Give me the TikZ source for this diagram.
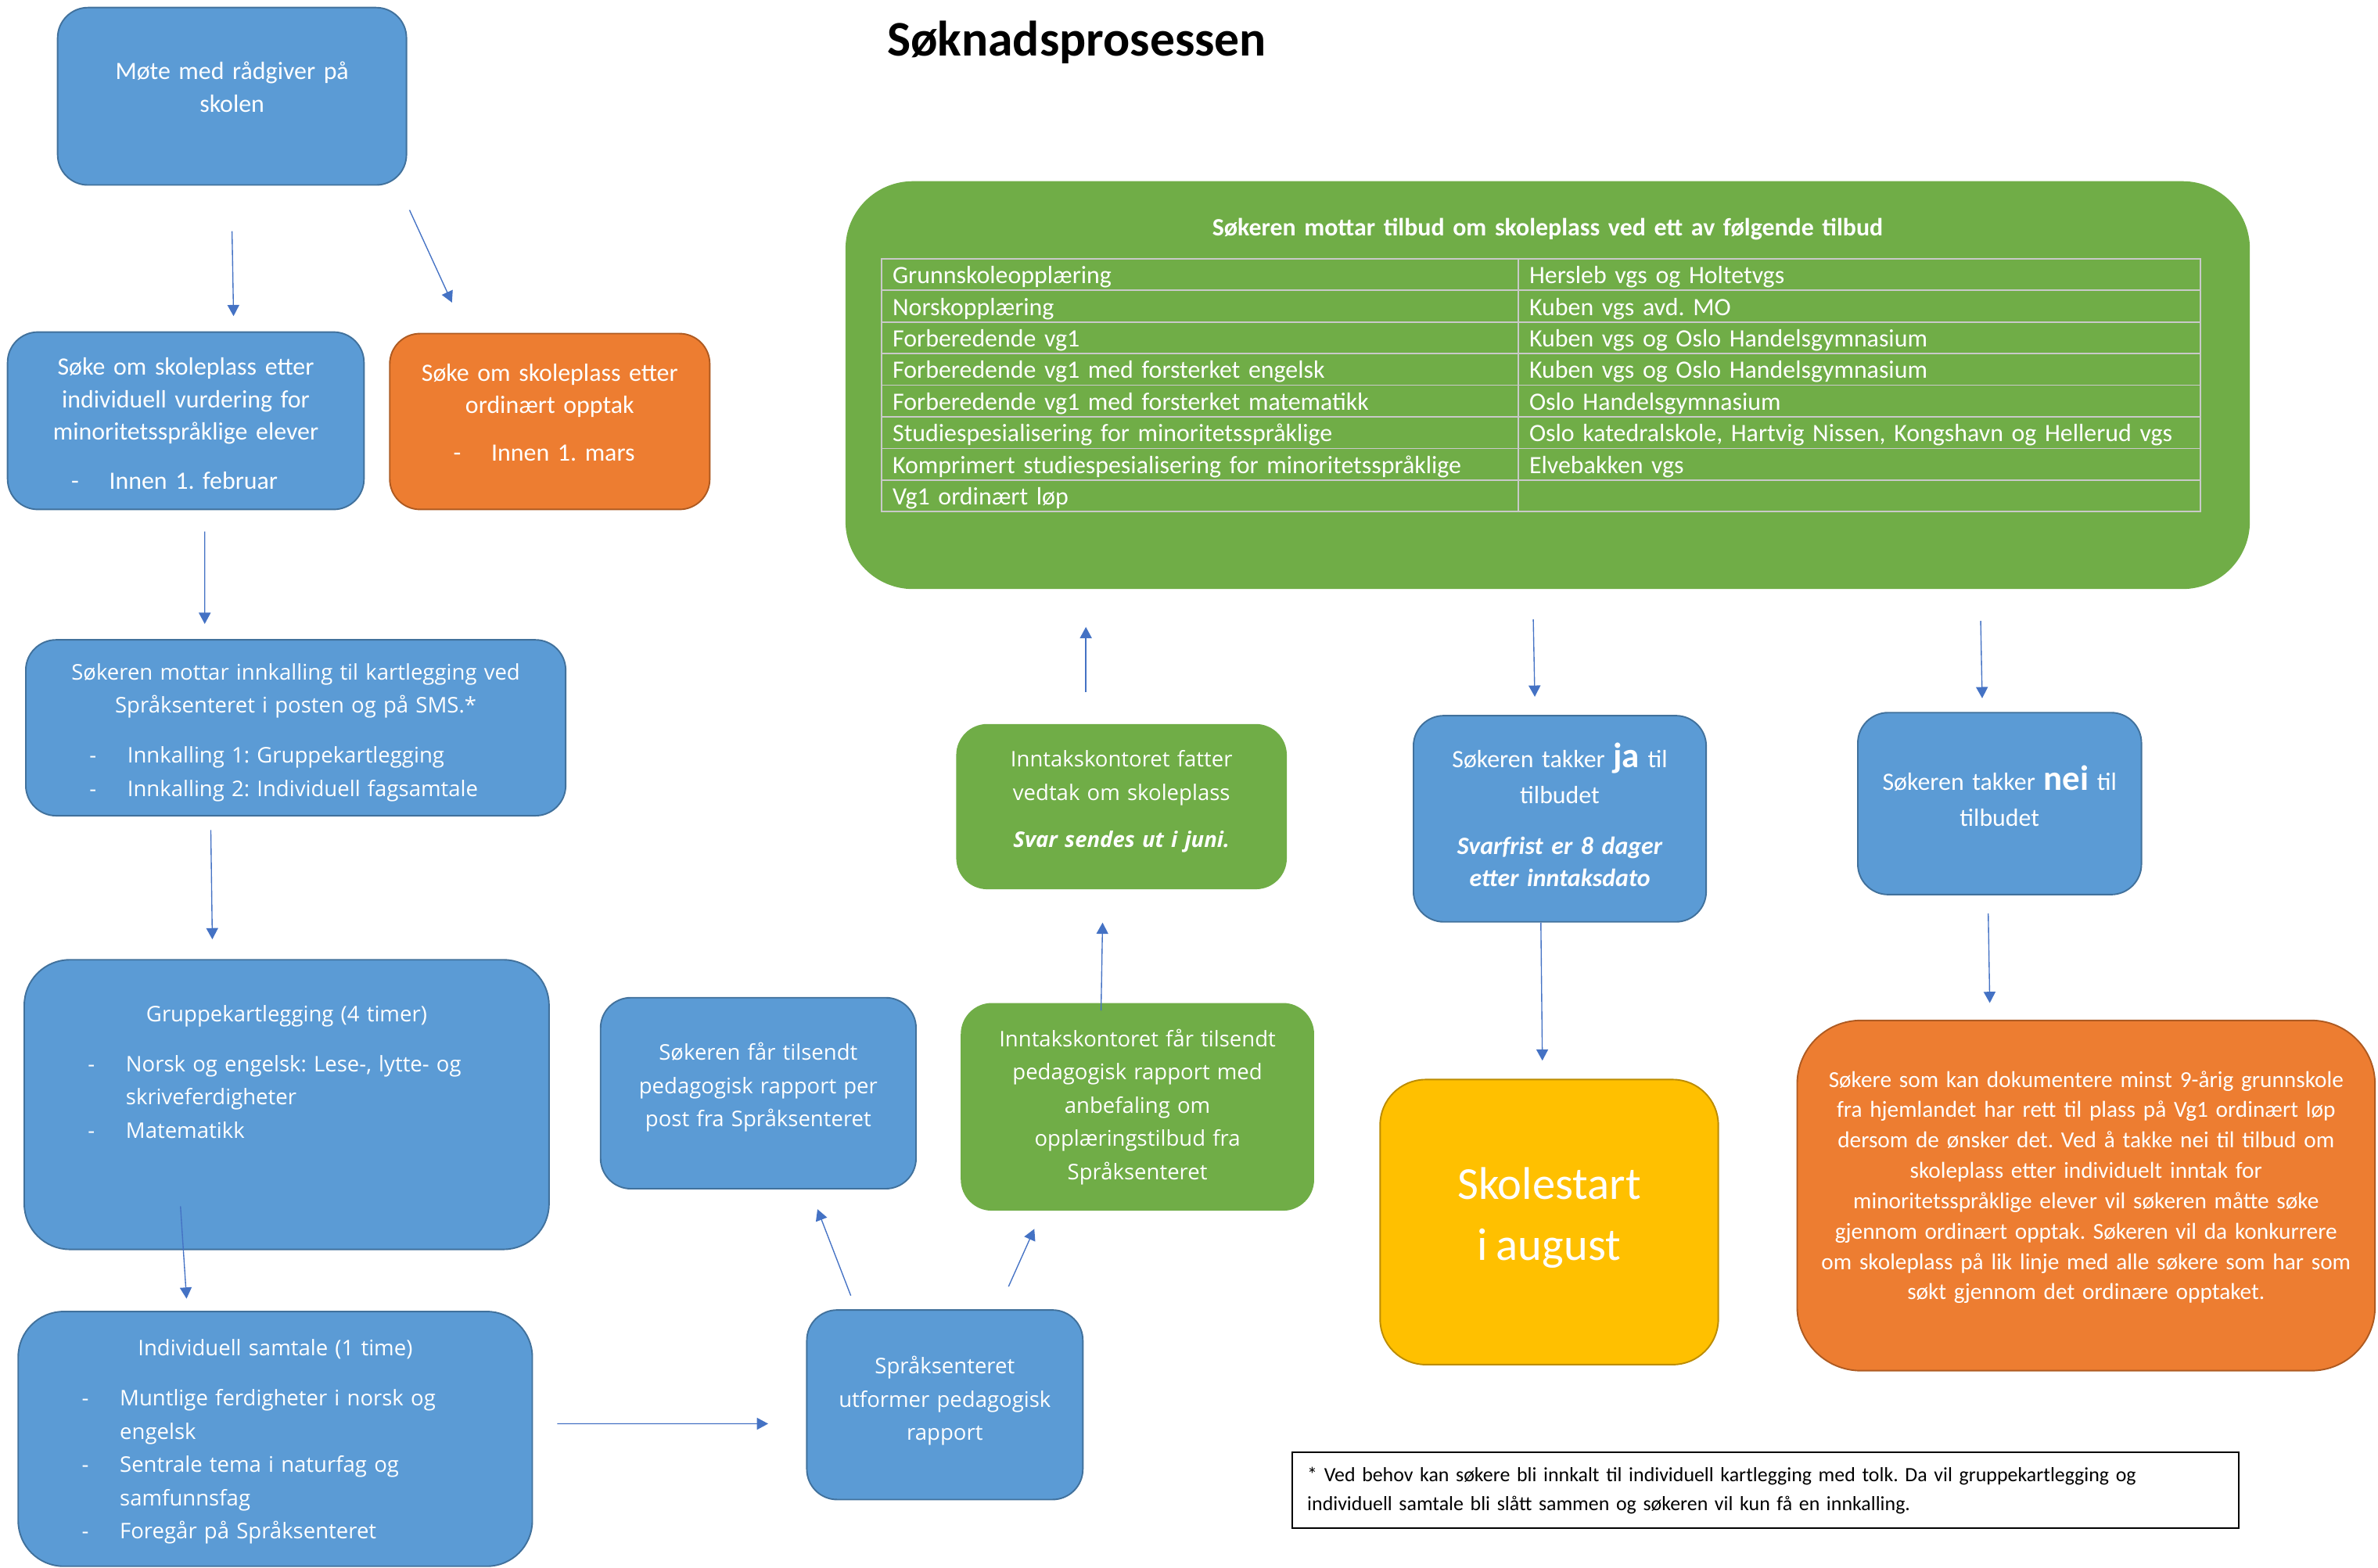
\documentclass[tikz,border=0pt]{standalone}
\usepackage{fontspec}
\setmainfont{Carlito}
\newfontfamily\widefont{Open Sans}
\usepackage{array}
\usepackage{colortbl}
\usetikzlibrary{calc,arrows.meta}

\definecolor{blaa}{HTML}{5B9BD5}
\definecolor{blaakant}{HTML}{41719C}
\definecolor{oransje}{HTML}{ED7D31}
\definecolor{oransjekant}{HTML}{AE5A21}
\definecolor{groenn}{HTML}{70AD47}
\definecolor{gul}{HTML}{FFC000}
\definecolor{gulkant}{HTML}{BC8C00}
\definecolor{pilfarge}{HTML}{4472C4}
\definecolor{tabellgraa}{HTML}{C9C9C9}

% one pixel of the sketch
\newlength{\pxl}\setlength{\pxl}{0.5mm}
\newcommand{\tx}{\fontsize{23.4}{30.5}\selectfont}
\newcommand{\wtx}{\widefont\fontsize{20.2}{31.2}\selectfont}
% list line with a dash
\newcommand{\punkt}[1]{\par\hangindent=28.5mm\hangafter=1\noindent\makebox[28.5mm][l]{\hspace{16mm}-}#1\par}
% extra room under the text (negative: text moves down)
\newcommand{\luft}[1]{\par\vspace{#1}\hrule height 0pt}
\newcommand{\rad}{\rule[-2mm]{0pt}{10mm}}

\tikzset{
  boks/.style={rounded corners=10mm, line width=1.4pt, text=white, inner xsep=5mm, inner ysep=2mm, font=\tx},
  blaaboks/.style={boks, draw=blaakant, fill=blaa},
  oransjeboks/.style={boks, draw=oransjekant, fill=oransje},
  groennboks/.style={boks, draw=groenn, fill=groenn},
  gulboks/.style={boks, draw=gulkant, fill=gul},
  bred/.style={font=\wtx},
  sz/.code 2 args={\pgfmathsetlengthmacro\boksbredde{#1*\pxl-10mm}%
    \edef\boksopt{\noexpand\tikzset{minimum width=#1\pxl, minimum height=#2\pxl, text width=\boksbredde}}\boksopt},
  pil/.style={draw=pilfarge, line width=1pt, -{Triangle[length=3.7mm,width=3.9mm]}}
}

\begin{document}
\frenchspacing
\begin{tikzpicture}[x=0.5mm,y=-0.5mm]
  \useasboundingbox (0,0) rectangle (1568,1034);

  % ------------- title
  \node[font=\fontsize{46.7}{56}\selectfont\bfseries] (tittel) at (710,28) {Søknadsprosessen};

  % ------------- left column
  \node[blaaboks, sz={230}{117}] (moete) at (153,63.5) {\centering Møte med rådgiver på\\skolen\luft{6mm}};
  \node[blaaboks, sz={235}{117}] (sokeind) at (122.5,277.5) {\centering Søke om skoleplass etter\\individuell vurdering for\\minoritetsspråklige elever\par\vspace{5.5mm}\raggedright\punkt{Innen 1. februar}\luft{-2mm}};
  \node[oransjeboks, sz={211}{116}] (sokeord) at (362.5,278) {\centering Søke om skoleplass etter\\ordinært opptak\par\vspace{5mm}\raggedright\punkt{Innen 1. mars}\luft{6mm}};
  \node[blaaboks, bred, sz={356}{116}] (innkalling) at (195,480) {\centering Søkeren mottar innkalling til kartlegging ved\\Språksenteret i posten og på SMS.*\par\vspace{5.5mm}\raggedright\punkt{Innkalling 1: Gruppekartlegging}\punkt{Innkalling 2: Individuell fagsamtale}\luft{-3mm}};
  \node[blaaboks, bred, sz={346}{191}, rounded corners=15mm] (gruppe) at (189,728.5) {\centering Gruppekartlegging (4 timer)\par\vspace{5.5mm}\raggedright\punkt{Norsk og engelsk: Lese-, lytte- og\newline skriveferdigheter}\punkt{Matematikk}\luft{21.5mm}};
  \node[blaaboks, bred, sz={339}{168}, rounded corners=15mm] (samtale) at (181.5,949) {\centering Individuell samtale (1 time)\par\vspace{5.5mm}\raggedright\punkt{Muntlige ferdigheter i norsk og\newline engelsk}\punkt{Sentrale tema i naturfag og\newline samfunnsfag}\punkt{Foregår på Språksenteret}\luft{-2mm}};

  % ------------- middle
  \node[blaaboks, bred, sz={208}{126}] (rapportpost) at (500,721) {\centering Søkeren får tilsendt\\pedagogisk rapport per\\post fra Språksenteret\luft{4mm}};
  \node[blaaboks, bred, sz={182}{125}] (utformer) at (623,926.5) {\centering Språksenteret\\utformer pedagogisk\\rapport\luft{2.5mm}};
  \node[groennboks, bred, sz={232}{136}] (inntakfaar) at (750,730) {\centering Inntakskontoret får tilsendt\\pedagogisk rapport med\\anbefaling om\\opplæringstilbud fra\\Språksenteret\par};
  \node[groennboks, bred, sz={217}{108}] (vedtak) at (739.5,532) {\centering Inntakskontoret fatter\\vedtak om skoleplass\par\vspace{4.5mm}{\bfseries\itshape Svar sendes ut i juni.}\luft{3.5mm}};

  % ------------- offer table
  \node[groennboks, sz={925}{268}, rounded corners=22mm] (tilbud) at (1020.5,254) {\centering
    {\bfseries Søkeren mottar tilbud om skoleplass ved ett av følgende tilbud}\par\vspace{5.5mm}
    \arrayrulecolor{tabellgraa}\setlength{\arrayrulewidth}{1.2pt}\setlength{\tabcolsep}{3.5mm}\renewcommand{\arraystretch}{0}%
    \hspace*{-9\pxl}\begin{tabular}{|w{l}{202.5mm}|w{l}{217.5mm}|}\hline
      \rad Grunnskoleopplæring & Hersleb vgs og Holtetvgs\\\hline
      \rad Norskopplæring & Kuben vgs avd. MO\\\hline
      \rad Forberedende vg1 & Kuben vgs  og Oslo Handelsgymnasium\\\hline
      \rad Forberedende vg1 med forsterket engelsk & Kuben vgs  og Oslo Handelsgymnasium\\\hline
      \rad Forberedende vg1 med forsterket matematikk & Oslo Handelsgymnasium\\\hline
      \rad Studiespesialisering for minoritetsspråklige & Oslo katedralskole, Hartvig Nissen, Kongshavn og Hellerud vgs\\\hline
      \rad Komprimert studiespesialisering for minoritetsspråklige & Elvebakken vgs\\\hline
      \rad Vg1 ordinært løp & \\\hline
    \end{tabular}\luft{13mm}};

  % ------------- right side
  \node[blaaboks, sz={193}{136}] (ja) at (1028.5,540) {\centering Søkeren takker {\bfseries\fontsize{33}{30.5}\selectfont ja} til\\[1mm]tilbudet\par\vspace{6mm}{\bfseries\itshape Svarfrist er 8 dager\\etter inntaksdato\par}\luft{2.5mm}};
  \node[blaaboks, sz={187}{120}] (nei) at (1318.5,530) {\centering Søkeren takker {\bfseries\fontsize{33}{30.5}\selectfont nei} til\\[1mm]tilbudet\luft{5mm}};
  \node[gulboks, sz={223}{188}, rounded corners=15mm] (skolestart) at (1021.5,806) {\centering\fontsize{43}{57}\selectfont Skolestart\\i august\luft{3mm}};
  \node[oransjeboks, sz={381}{231}, rounded corners=21mm, font=\fontsize{21.5}{28.5}\selectfont] (rett) at (1375.5,788.5) {\centering Søkere som kan dokumentere minst 9-årig grunnskole\\fra hjemlandet har rett til plass på Vg1 ordinært løp\\dersom de ønsker det. Ved å takke nei til tilbud om\\skoleplass etter individuelt inntak for\\minoritetsspråklige elever vil søkeren måtte søke\\gjennom ordinært opptak. Søkeren vil da konkurrere\\om skoleplass på lik linje med alle søkere som har som\\søkt gjennom det ordinære opptaket.\luft{5.5mm}};
  \node[draw=black, fill=white, line width=1.6pt, sz={624}{50}, inner xsep=5mm, font=\fontsize{19}{27}\selectfont] (fotnote) at (1164,983) {\raggedright * Ved behov kan søkere bli innkalt til individuell kartlegging med tolk. Da vil gruppekartlegging og\\individuell samtale bli slått sammen og søkeren vil kun få en innkalling.\par};

  % ------------- arrows
  \draw[pil] ($(moete.south)+(0,30)$) -- ($(sokeind.north)+(31.5,-10)$);
  \draw[pil] ($(moete.south)+(117,16)$) -- ($(sokeord.north)+(-64.5,-20)$);
  \draw[pil] ($(sokeind.south)+(12.5,14)$) -- ($(innkalling.north)+(-60,-10)$);
  \draw[pil] ($(innkalling.south)+(-56,9)$) -- ($(gruppe.north)+(-49,-13)$);
  \draw[pil] ($(gruppe.south)+(-70,-29)$) -- ($(samtale.north)+(-58.5,-8)$);
  \draw[pil] ($(samtale.east)+(16,-10)$) -- ($(utformer.west)+(-25,12.5)$);
  \draw[pil] ($(utformer.north)+(-62,-9)$) -- ($(rapportpost.south)+(39,13)$);
  \draw[pil] ($(utformer.north)+(42,-15)$) -- ($(inntakfaar.south)+(-68,12)$);
  \draw[pil] ($(inntakfaar.north)+(-24,5)$) -- ($(vedtak.south)+(-12.5,22)$);
  \draw[pil] ($(vedtak.north)+(-23.5,-21)$) -- ($(tilbud.south)+(-304.5,25)$);
  \draw[pil] ($(tilbud.south)+(-9.5,20)$) -- ($(ja.north)+(-16.5,-12)$);
  \draw[pil] ($(tilbud.south)+(285.5,21)$) -- ($(nei.north)+(-11.5,-9)$);
  \draw[pil] ($(ja.south)+(-12.5,0)$) -- ($(skolestart.north)+(-4.5,-12)$);
  \draw[pil] ($(nei.south)+(-7.5,12)$) -- ($(rett.north)+(-63.5,-11)$);

\end{tikzpicture}
\end{document}
